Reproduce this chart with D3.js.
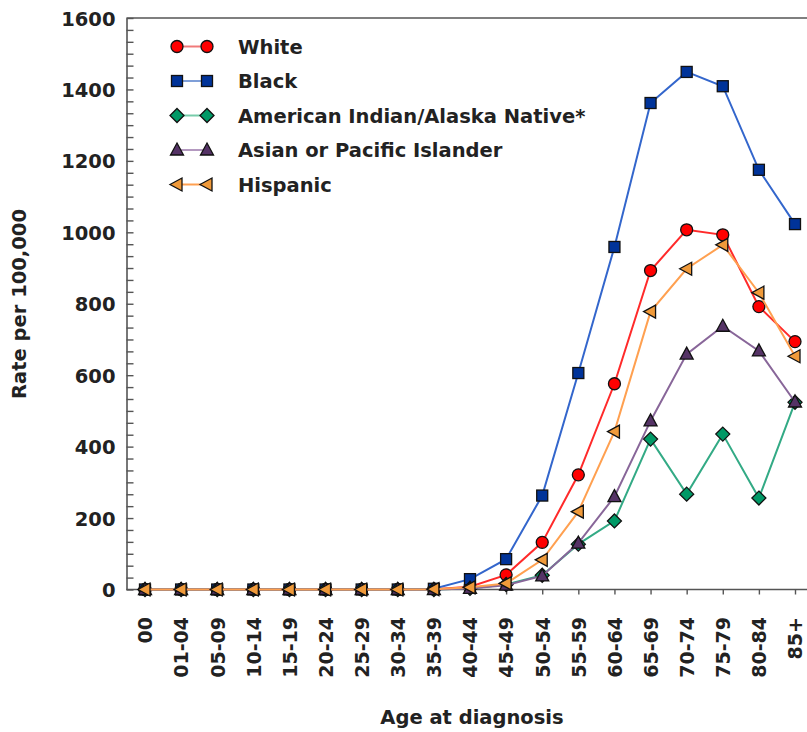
<!DOCTYPE html>
<html>
<head>
<meta charset="utf-8">
<script src="https://cdn.jsdelivr.net/npm/d3@7"></script>
<style>
  html, body { margin: 0; padding: 0; background: #fff; }
  svg { display: block; }
  text { font-family: "DejaVu Sans", Verdana, sans-serif; font-weight: bold; fill: #222; }
</style>
</head>
<body>
<svg id="chart" width="807" height="732"></svg>
<script>
const categories = ["00","01-04","05-09","10-14","15-19","20-24","25-29","30-34","35-39","40-44","45-49","50-54","55-59","60-64","65-69","70-74","75-79","80-84","85+"];
const white    = [0,0,0,0,0,0,0,0,1,8,41,132,321,576,893,1007,993,792,694];
const black    = [0,0,0,0,0,0,0,0,2,29,85,263,606,959,1362,1449,1409,1175,1023];
const aian     = [0,0,0,0,0,0,0,0,0,3,14,40,127,192,421,267,435,256,524];
const api      = [0,0,0,0,0,0,0,0,0,3,12,38,130,260,472,659,737,668,525];
const hispanic = [0,0,0,0,0,0,0,0,1,6,17,83,218,442,778,898,965,831,653];
const seriesNames = ["White","Black","American Indian/Alaska Native*","Asian or Pacific Islander","Hispanic"];
const yMajorTicks = [0,200,400,600,800,1000,1200,1400,1600];

const seriesStyle = [
  {line:"#ff2a2a", fill:"#ff0000", legendLine:"#f07a7a", shape:"circle"},
  {line:"#3366cc", fill:"#003399", legendLine:"#7f9fd8", shape:"square"},
  {line:"#33aa85", fill:"#009966", legendLine:"#77ccaa", shape:"diamond"},
  {line:"#886699", fill:"#553366", legendLine:"#b499c0", shape:"triangleUp"},
  {line:"#ffa050", fill:"#f09a3a", legendLine:"#ffa050", shape:"triangleLeft"}
];
const seriesData = [white, black, aian, api, hispanic];

(function () {
const svg = d3.select("#chart");
const pLeft = 126.5, pRight = 807, pTop = 18, pBottom = 589.5;

const x = d3.scalePoint().domain(categories).range([145, 795]);
const y = d3.scaleLinear().domain([0,1600]).range([pBottom, pTop]);

// frame: top line
svg.append("line").attr("x1", pLeft).attr("x2", pRight).attr("y1", pTop).attr("y2", pTop)
  .attr("stroke", "#555").attr("stroke-width", 1.6);

// y minor/major ticks (inward)
const minorTicks = d3.range(0, 49).map(i => i * 1600 / 48);
const yTickAxis = d3.axisLeft(y).tickValues(minorTicks).tickSize(-7).tickSizeOuter(0).tickFormat("");
const gyt = svg.append("g").attr("transform", `translate(${pLeft},0)`).call(yTickAxis);
gyt.select(".domain").attr("stroke", "#555").attr("stroke-width", 1.6);
gyt.selectAll(".tick line").attr("stroke", "#555").attr("stroke-width", 1.4);

const yLabelAxis = d3.axisLeft(y).tickValues(yMajorTicks).tickSize(0).tickPadding(11).tickFormat(d3.format("d"));
const gyl = svg.append("g").attr("transform", `translate(${pLeft},0)`).call(yLabelAxis);
gyl.select(".domain").remove();
gyl.selectAll("text").style("font-size", "19.5px").style("font-family", "DejaVu Sans").style("font-weight", "bold").attr("fill", "#222").attr("dy", "0.36em");

// x axis
const xAxis = d3.axisBottom(x).tickSize(5).tickSizeOuter(0);
const gx = svg.append("g").attr("transform", `translate(0,${pBottom})`).call(xAxis);
gx.select(".domain").attr("d", `M${pLeft},0H${pRight}`).attr("stroke", "#555").attr("stroke-width", 1.6);
gx.selectAll(".tick line").attr("stroke", "#555").attr("stroke-width", 1.4);
gx.selectAll(".tick text")
  .attr("transform", "rotate(-90)")
  .attr("text-anchor", "end")
  .attr("x", -27.5).attr("y", 0).attr("dy", "0.36em")
  .style("font-size", "19px").style("font-family", "DejaVu Sans").style("font-weight", "bold").attr("fill", "#222");

// axis titles
svg.append("text").attr("x", 472).attr("y", 724).attr("text-anchor", "middle")
  .style("font-size", "19.5px").text("Age at diagnosis");
svg.append("text").attr("transform", "translate(26,304) rotate(-90)").attr("text-anchor", "middle")
  .style("font-size", "19.5px").text("Rate per 100,000");

function drawMarker(g, shape, cx, cy, fill) {
  let el;
  if (shape === "circle") {
    el = g.append("circle").attr("cx", cx).attr("cy", cy).attr("r", 6);
  } else if (shape === "square") {
    el = g.append("rect").attr("x", cx - 5.5).attr("y", cy - 5.5).attr("width", 11).attr("height", 11);
  } else if (shape === "diamond") {
    el = g.append("path").attr("d", `M${cx},${cy-7}L${cx+7},${cy}L${cx},${cy+7}L${cx-7},${cy}Z`);
  } else if (shape === "triangleUp") {
    el = g.append("path").attr("d", `M${cx},${cy-7}L${cx+6.5},${cy+5}L${cx-6.5},${cy+5}Z`);
  } else {
    el = g.append("path").attr("d", `M${cx-7},${cy}L${cx+5},${cy-6.5}L${cx+5},${cy+6.5}Z`);
  }
  el.attr("fill", fill).attr("stroke", "#111").attr("stroke-width", 1.3);
}

const line = d3.line().x((d, i) => x(categories[i])).y(d => y(d));

seriesData.forEach((vals, si) => {
  const s = seriesStyle[si];
  const g = svg.append("g");
  g.append("path").datum(vals).attr("d", line).attr("fill", "none")
    .attr("stroke", s.line).attr("stroke-width", 2);
  vals.forEach((v, i) => drawMarker(g, s.shape, x(categories[i]), y(v), s.fill));
});

// legend
const legendY0 = 46.5, legendStep = 34.5;
seriesNames.forEach((name, i) => {
  const s = seriesStyle[i];
  const g = svg.append("g");
  const ly = legendY0 + i * legendStep;
  g.append("line").attr("x1", 177).attr("x2", 207).attr("y1", ly).attr("y2", ly)
    .attr("stroke", s.legendLine).attr("stroke-width", 2);
  drawMarker(g, s.shape, 177, ly, s.fill);
  drawMarker(g, s.shape, 207, ly, s.fill);
  g.append("text").attr("x", 238).attr("y", ly).attr("dy", "0.36em")
    .style("font-size", "19.5px").text(name);
});
})();
</script>
</body>
</html>
